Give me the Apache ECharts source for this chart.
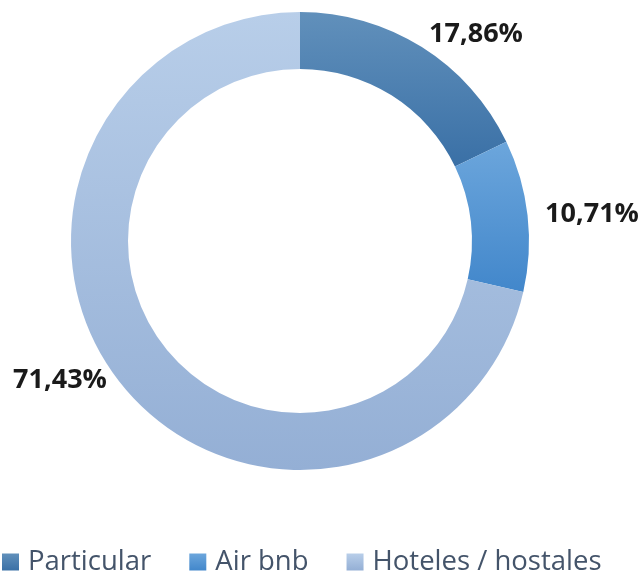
<!DOCTYPE html>
<html>
<head>
<meta charset="utf-8">
<script src="https://cdn.jsdelivr.net/npm/echarts@6/dist/echarts.min.js"></script>
<style>
    html, body { margin: 0; padding: 0; background: #fff; }
    #main { width: 641px; height: 578px; }
</style>
</head>
<body>
<div id="main"></div>
<script>
    // datos del gráfico
    var categorias = ['Particular', 'Air bnb', 'Hoteles / hostales']
    var valores = [17.86, 10.71, 71.43]
    var etiquetas = ['17,86%', '10,71%', '71,43%']

    // degradado vertical por sector (arriba, abajo)
    var colores = [
        ['#6190bb', '#3a70a6'],
        ['#6ca6dc', '#4287cb'],
        ['#b8cee9', '#94afd5']
    ]
    // posición de cada etiqueta (centro del texto)
    var posEtiquetas = [[476, 34], [592, 214], [60, 380]]

    var chart = echarts.init(document.getElementById('main'))

    var data = categorias.map(function (c, i) {
        return {
            name: c,
            value: valores[i],
            itemStyle: {
                color: new echarts.graphic.LinearGradient(0, 0, 0, 1, [
                    {offset: 0, color: colores[i][0]},
                    {offset: 1, color: colores[i][1]}
                ])
            }
        }
    })

    chart.setOption({
        animation: false,
        legend: {
            top: 548,
            left: 2,
            padding: 0,
            itemWidth: 17,
            itemHeight: 17,
            itemGap: 38,
            icon: 'rect',
            textStyle: {
                fontFamily: 'Open Sans',
                fontSize: 27.5,
                color: '#44546a',
                padding: [0, 0, 0, 4]
            },
            data: categorias
        },
        series: [
            {
                type: 'pie',
                center: [300, 241],
                radius: [172, 229],
                startAngle: 90,
                clockwise: true,
                label: {
                    show: true,
                    position: 'outside',
                    overflow: 'none',
                    width: 200,
                    formatter: function (p) {
                        return etiquetas[p.dataIndex]
                    },
                    fontFamily: 'Open Sans',
                    fontWeight: 'bold',
                    fontSize: 27,
                    color: '#1a1a1a'
                },
                labelLine: {show: false},
                labelLayout: function (p) {
                    var pos = posEtiquetas[p.dataIndex]
                    return {
                        x: pos[0],
                        y: pos[1],
                        align: 'center',
                        verticalAlign: 'middle'
                    }
                },
                emphasis: {disabled: true},
                data: data
            }
        ]
    })
</script>
</body>
</html>
